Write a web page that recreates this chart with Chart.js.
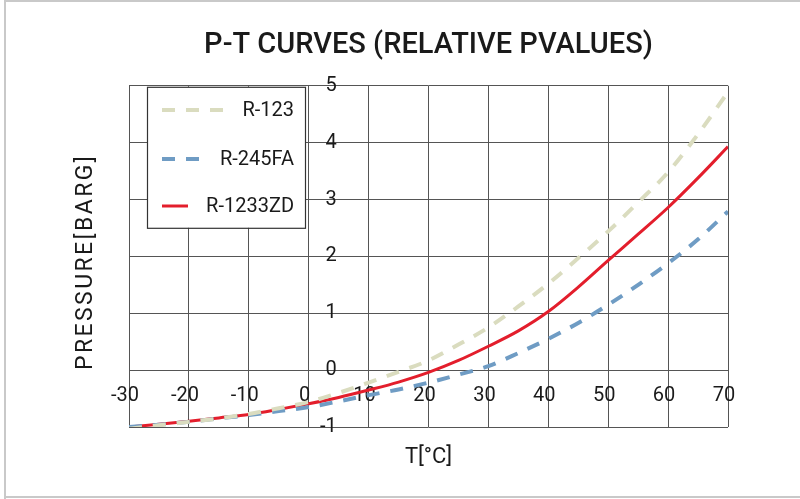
<!DOCTYPE html>
<html>
<head>
<meta charset="utf-8">
<script src="https://cdn.jsdelivr.net/npm/chart.js@4/dist/chart.umd.min.js"></script>
<style>
  html, body { margin: 0; padding: 0; background: #fff; }
  #wrap { width: 800px; height: 499px; position: relative; }
</style>
</head>
<body>
<div id="wrap"><canvas id="c" width="800" height="499"></canvas></div>
<script>
// ---- data ----
const temperatures = [-30, -25, -20, -15, -10, -5, 0, 5, 10, 15, 20, 25, 30, 35, 40, 45, 50, 55, 60, 65, 70];
const r123    = [-1.03, -0.97, -0.91, -0.85, -0.77, -0.67, -0.56, -0.40, -0.22, -0.03, 0.17, 0.45, 0.75, 1.12, 1.52, 1.97, 2.44, 2.95, 3.48, 4.15, 4.89];
const r245fa  = [-1.00, -0.96, -0.91, -0.85, -0.79, -0.72, -0.65, -0.55, -0.44, -0.34, -0.22, -0.08, 0.07, 0.30, 0.55, 0.83, 1.15, 1.50, 1.88, 2.30, 2.79];
const r1233zd = [-1.00, -0.95, -0.90, -0.84, -0.78, -0.69, -0.59, -0.48, -0.35, -0.21, -0.04, 0.17, 0.42, 0.69, 1.03, 1.46, 1.93, 2.39, 2.86, 3.38, 3.93];
const seriesNames = ['R-123', 'R-245FA', 'R-1233ZD'];
const titleText = 'P-T CURVES (RELATIVE PVALUES)';
const xTitle = 'T[°C]';
const yTitle = 'PRESSURE[BARG]';
const xRange = [-30, 70];
const yRange = [-1, 5];
const yLabelAnchorT = 4.7;   // temperature at which the pressure tick labels are right-aligned

// ---- styles ----
const FONT = 'Roboto';
const colors = ['#dadcbf', '#6f9cc4', '#e31e2c'];
const widths = [4, 4, 3];
const dashes = [[13, 11], [13, 11], []];
const legendSampleLen = [64, 40, 26];
const gridColor = '#555555';

const toPoints = (ys) => temperatures.map((t, i) => ({ x: t, y: ys[i] }));
const allSeries = [r123, r245fa, r1233zd];

const datasets = allSeries.map((ys, i) => ({
  label: seriesNames[i],
  data: toPoints(ys),
  borderColor: colors[i],
  backgroundColor: colors[i],
  borderWidth: widths[i],
  borderDash: dashes[i],
  pointRadius: 0,
  fill: false,
  cubicInterpolationMode: 'monotone'
}));

const frame = {
  id: 'frame',
  beforeDraw(chart) {
    const ctx = chart.ctx;
    ctx.save();
    ctx.fillStyle = '#ffffff';
    ctx.fillRect(0, 0, chart.width, chart.height);
    ctx.strokeStyle = '#c9c9c9';
    ctx.lineWidth = 2;
    ctx.beginPath();
    ctx.moveTo(5, 499);
    ctx.lineTo(5, 1);
    ctx.lineTo(801, 1);
    ctx.moveTo(5, 497);
    ctx.lineTo(801, 497);
    ctx.stroke();
    ctx.restore();
  },
  afterDraw(chart) {
    const ctx = chart.ctx;
    const a = chart.chartArea;
    ctx.save();
    ctx.fillStyle = '#1a1a1a';
    // axis titles
    ctx.font = '22px ' + FONT;
    ctx.textAlign = 'center';
    ctx.textBaseline = 'middle';
    ctx.fillText(xTitle, (a.left + a.right) / 2, 457);
    ctx.save();
    ctx.translate(86, 263);
    ctx.rotate(-Math.PI / 2);
    ctx.font = '23px ' + FONT;
    ctx.letterSpacing = '2.4px';
    ctx.fillText(yTitle, 1.2, 0);
    ctx.restore();

    // legend box inside chart area
    const bx = 147, by = a.top + 1, bw = 158, bh = 141;
    ctx.fillStyle = '#ffffff';
    ctx.fillRect(bx, by, bw, bh);
    ctx.strokeStyle = '#333333';
    ctx.lineWidth = 1.2;
    ctx.strokeRect(bx + 0.5, by + 0.5, bw, bh);
    const rowsY = [110, 159, 206];
    chart.data.datasets.forEach((ds, i) => {
      const y = rowsY[i];
      ctx.beginPath();
      ctx.strokeStyle = ds.borderColor;
      ctx.lineWidth = ds.borderWidth;
      ctx.setLineDash(ds.borderDash || []);
      ctx.moveTo(162, y);
      ctx.lineTo(162 + legendSampleLen[i], y);
      ctx.stroke();
      ctx.setLineDash([]);
      ctx.fillStyle = '#1a1a1a';
      ctx.font = '20px ' + FONT;
      ctx.textAlign = 'right';
      ctx.textBaseline = 'middle';
      ctx.fillText(ds.label, 294, y + 1);
    });
    ctx.restore();
  }
};

new Chart(document.getElementById('c'), {
  type: 'line',
  data: { datasets },
  plugins: [frame],
  options: {
    responsive: false,
    animation: false,
    devicePixelRatio: 1,
    layout: { padding: { left: 129, right: 72, top: 0, bottom: 72 } },
    plugins: {
      legend: { display: false },
      tooltip: { enabled: false },
      title: {
        display: true,
        text: titleText,
        fullSize: false,
        color: '#1a1a1a',
        font: { family: FONT, size: 29, weight: '500' },
        padding: { top: 28, bottom: 23 }
      }
    },
    scales: {
      x: {
        type: 'linear',
        min: xRange[0], max: xRange[1],
        position: { y: 0 },
        grid: { color: gridColor, lineWidth: 1, drawTicks: false },
        border: { display: true, color: gridColor },
        ticks: { stepSize: 10, color: '#1a1a1a', padding: 14, labelOffset: -4, font: { family: FONT, size: 20 } }
      },
      y: {
        type: 'linear',
        min: yRange[0], max: yRange[1],
        position: { x: yLabelAnchorT },
        grid: { color: gridColor, lineWidth: 1, drawTicks: false },
        border: { display: false },
        ticks: { stepSize: 1, color: '#1a1a1a', padding: 0, font: { family: FONT, size: 20 } }
      }
    }
  }
});
</script>
</body>
</html>
